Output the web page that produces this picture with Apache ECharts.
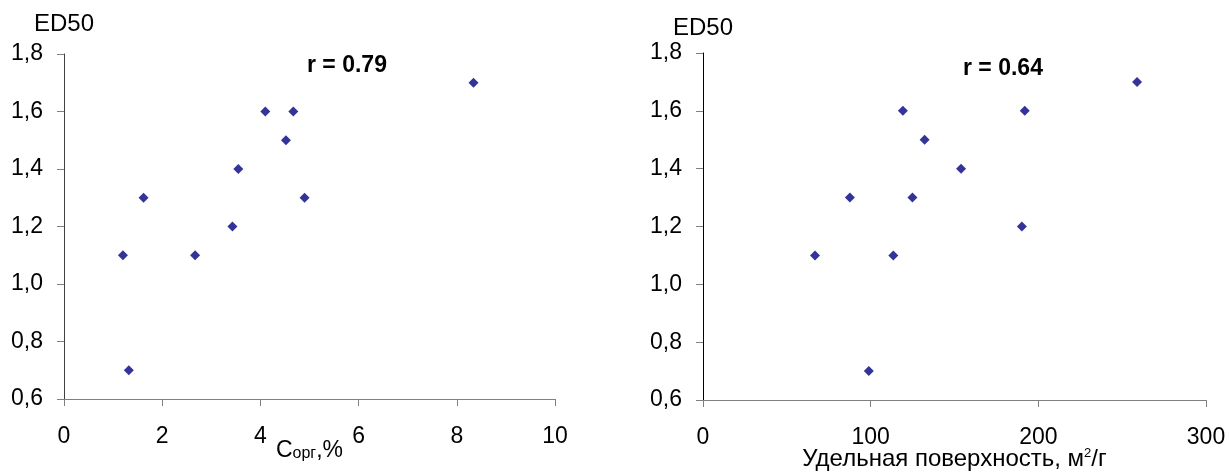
<!DOCTYPE html>
<html>
<head>
<meta charset="utf-8">
<script src="https://cdn.jsdelivr.net/npm/echarts@6/dist/echarts.min.js"></script>
<style>
html,body{margin:0;padding:0;background:#fff;}
#chart{width:1230px;height:473px;}
</style>
</head>
<body>
<div id="chart"></div>
<script>
// Left panel: C_org, % vs ED50
const leftX = [8.34, 4.10, 4.67, 4.52, 3.55, 1.62, 4.90, 3.43, 1.20, 2.67, 1.32];
const leftY = [1.7, 1.6, 1.6, 1.5, 1.4, 1.3, 1.3, 1.2, 1.1, 1.1, 0.7];
// Right panel: specific surface, m2/g vs ED50
const rightX = [258.9, 119.2, 191.9, 132.2, 153.9, 87.6, 124.9, 190.2, 66.8, 113.5, 98.9];
const rightY = [1.7, 1.6, 1.6, 1.5, 1.4, 1.3, 1.3, 1.2, 1.1, 1.1, 0.7];
const yAxisName = 'ED50';
const leftR = 'r = 0.79';
const rightR = 'r = 0.64';

const FONT = "'Liberation Sans', Arial, sans-serif";
const chart = echarts.init(document.getElementById('chart'), null, {renderer: 'canvas'});

function pairs(xs, ys) { return xs.map((x, i) => [x, ys[i]]); }

const yCommon = {
  type: 'value', min: 0.6, max: 1.8, interval: 0.2,
  name: yAxisName, nameLocation: 'end', nameMoveOverlap: false,
  nameTextStyle: {fontFamily: FONT, fontSize: 24, color: '#000'},
  splitLine: {show: false},
  axisTick: {show: true, length: 7, lineStyle: {color: '#808080'}},
  axisLabel: {fontFamily: FONT, fontSize: 23, color: '#000', margin: 21,
    formatter: v => v.toFixed(1).replace('.', ',')}
};

const option = {
  backgroundColor: '#fff',
  animation: false,
  grid: [
    {left: 64, top: 54, width: 491, height: 345, containLabel: false, outerBoundsMode: 'none'},
    {left: 703, top: 53, width: 503, height: 347, containLabel: false, outerBoundsMode: 'none'}
  ],
  xAxis: [
    {gridIndex: 0, type: 'value', min: 0, max: 10, interval: 2,
     splitLine: {show: false},
     axisLine: {lineStyle: {color: '#808080'}},
     axisTick: {length: 7, lineStyle: {color: '#808080'}},
     axisLabel: {fontFamily: FONT, fontSize: 23, color: '#000', margin: 26},
     name: '{n|C}{s|орг}{n|,%}', nameLocation: 'middle', nameGap: 40, nameMoveOverlap: false,
     nameTextStyle: {fontFamily: FONT, color: '#000',
       rich: {
         n: {fontFamily: FONT, fontSize: 23, lineHeight: 23, color: '#000'},
         s: {fontFamily: FONT, fontSize: 16, lineHeight: 16, verticalAlign: 'bottom', color: '#000'}
       }}
    },
    {gridIndex: 1, type: 'value', min: 0, max: 300, interval: 100,
     splitLine: {show: false},
     axisLine: {lineStyle: {color: '#808080'}},
     axisTick: {length: 7, lineStyle: {color: '#808080'}},
     axisLabel: {fontFamily: FONT, fontSize: 23, color: '#000', margin: 26},
     name: '{n|Удельная поверхность, м}{p|2}{n|/г}', nameLocation: 'middle', nameGap: 47, nameMoveOverlap: false,
     nameTextStyle: {fontFamily: FONT, color: '#000',
       rich: {
         n: {fontFamily: FONT, fontSize: 24, lineHeight: 24, color: '#000'},
         p: {fontFamily: FONT, fontSize: 13, lineHeight: 14, verticalAlign: 'top', color: '#000'}
       }}
    }
  ],
  yAxis: [
    Object.assign({}, yCommon, {gridIndex: 0, nameGap: 18,
      axisLine: {show: true, lineStyle: {color: '#404040'}}}),
    Object.assign({}, yCommon, {gridIndex: 1, nameGap: 13,
      axisLine: {show: true, lineStyle: {color: '#000'}}})
  ],
  series: [
    {type: 'scatter', xAxisIndex: 0, yAxisIndex: 0, data: pairs(leftX, leftY),
     symbol: 'diamond', symbolSize: 10, itemStyle: {color: '#000080'}},
    {type: 'scatter', xAxisIndex: 1, yAxisIndex: 1, data: pairs(rightX, rightY),
     symbol: 'diamond', symbolSize: 10, itemStyle: {color: '#000080'}}
  ],
  graphic: [
    {type: 'text', left: 307, top: 54,
     style: {text: leftR, fontFamily: FONT, fontSize: 23, fontWeight: 'bold', fill: '#000'}},
    {type: 'text', left: 963, top: 57,
     style: {text: rightR, fontFamily: FONT, fontSize: 23, fontWeight: 'bold', fill: '#000'}}
  ]
};
chart.setOption(option);
</script>
</body>
</html>
